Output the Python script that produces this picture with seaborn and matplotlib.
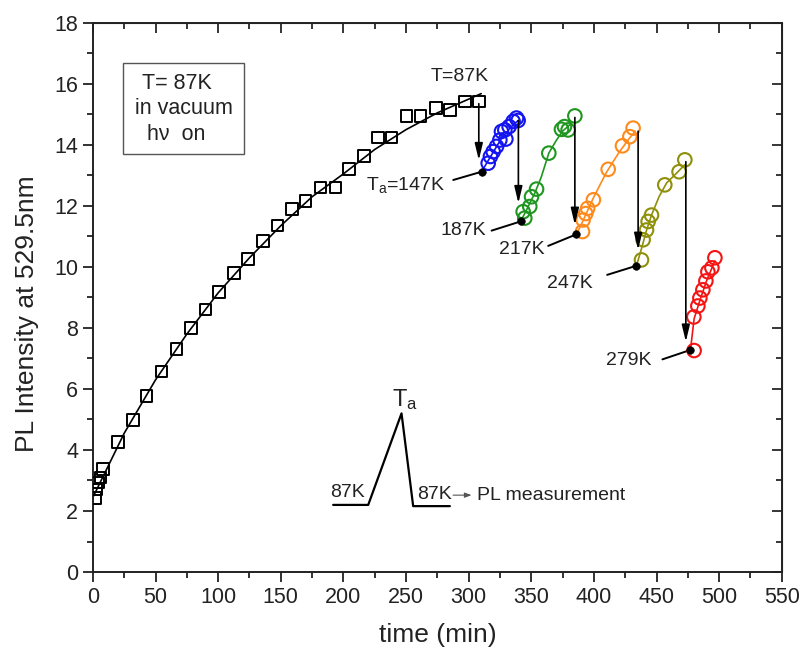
import numpy as np
import matplotlib
matplotlib.use('Agg')
import matplotlib.pyplot as plt
import matplotlib.patches as mpatches
import seaborn as sns
from matplotlib.ticker import MultipleLocator

# ============ DATA ============
# black squares: T = 87K, continuous illumination
sq_t = [1.6, 3, 4.2, 6, 8.2, 20.2, 32.2, 42.9, 54.8, 66.8, 78.2, 90, 100.6,
        112.8, 124, 136, 147.4, 159.1, 169.8, 181.8, 193.7, 204.4, 216.3,
        227.8, 238.4, 250.4, 261.6, 273.8, 285, 297, 308.1]
sq_y = [2.43, 2.7, 2.93, 3.1, 3.37, 4.27, 4.98, 5.77, 6.57, 7.31, 7.99, 8.61,
        9.17, 9.81, 10.26, 10.84, 11.36, 11.89, 12.16, 12.6, 12.6, 13.2, 13.64,
        14.24, 14.24, 14.95, 14.95, 15.2, 15.15, 15.42, 15.42]
sq_fit_t = [0, 25, 50, 75, 100, 125, 150, 175, 200, 225, 250, 275, 300, 310]
sq_fit_y = [2.45, 4.55, 6.3, 7.8, 9.15, 10.3, 11.35, 12.3, 13.05, 13.85, 14.5,
            15.05, 15.5, 15.68]

# annealed series (open circles), dot = first point after cooling back to 87K
blue_t = [315.6, 317.4, 319.6, 322.3, 324.9, 326.2, 329.7, 328.9, 332.3, 335.5, 338.2, 339.5]
blue_y = [13.4, 13.62, 13.78, 13.95, 14.16, 14.44, 14.19, 14.49, 14.6, 14.77, 14.88, 14.8]
blue_fit_t = [310.3, 318, 326, 333, 339.5]
blue_fit_y = [13.12, 13.65, 14.2, 14.55, 14.8]

green_t = [343.5, 344.8, 348.8, 350.2, 354.2, 364, 374.1, 376.5, 379.4, 384.8]
green_y = [11.81, 11.6, 11.98, 12.3, 12.55, 13.73, 14.51, 14.6, 14.49, 14.95]
green_fit_t = [341.4, 346, 352.8, 358, 364, 370, 375, 380.8]
green_fit_y = [11.49, 11.85, 12.42, 12.95, 13.73, 14.15, 14.45, 14.66]

orange_t = [390.9, 391.4, 393.5, 395, 399.6, 411.4, 422.8, 428.7, 431.3]
orange_y = [11.16, 11.54, 11.75, 11.92, 12.2, 13.2, 13.97, 14.27, 14.55]
orange_fit_t = [386.1, 390, 395, 400, 410, 420, 428, 433]
orange_fit_y = [11.07, 11.4, 11.85, 12.3, 13.1, 13.75, 14.2, 14.45]

olive_t = [438, 439.3, 442, 443.3, 446, 456.6, 468, 472.6]
olive_y = [10.23, 10.89, 11.21, 11.49, 11.7, 12.69, 13.12, 13.51]
olive_fit_t = [434, 438, 442, 446, 452, 458, 465.9, 472.6]
olive_fit_y = [10.04, 10.6, 11.2, 11.7, 12.3, 12.75, 13.07, 13.35]

red_t = [480, 479.8, 483, 484.6, 487, 489.4, 491, 494.2, 496.6]
red_y = [7.26, 8.36, 8.72, 8.98, 9.25, 9.54, 9.84, 9.97, 10.3]
red_fit_t = [477.1, 480, 485, 490, 496.6]
red_fit_y = [7.28, 8.3, 8.95, 9.55, 10.2]

# first point after annealing (black dots) and the anneal temperatures
dot_t = [310.3, 341.4, 386.1, 434, 477.1]
dot_y = [13.12, 11.49, 11.07, 10.04, 7.28]
anneal_labels = ['T$_a$=147K', '187K', '217K', '247K', '279K']
label_t = [281, 314.3, 360.8, 398.8, 446]
label_y = [12.69, 11.21, 10.56, 9.47, 6.93]
leader_t = [287.7, 318.3, 363.5, 410.6, 454.7]
leader_y = [12.85, 11.19, 10.69, 9.74, 6.97]

# drop arrows (start at the last point of the previous run)
arrow_t = [308.1, 339.7, 384.8, 435.3, 473.4]
arrow_top = [15.35, 14.8, 14.9, 14.45, 13.45]
arrow_tip = [13.5, 12.09, 11.38, 10.56, 7.55]

# inset temperature profile
prof_t = [191.8, 219.8, 246.4, 255.7, 285]
prof_y = [2.2, 2.2, 5.2, 2.16, 2.16]

# info box text
box_lines = ['T= 87K', 'in vacuum', 'h\u03bd  on']
box_line_t = [38.9, 33.6, 42.9]
box_line_y = [16.02, 15.2, 14.33]

series = [
    (blue_t, blue_y, blue_fit_t, blue_fit_y, '#1414f0'),
    (green_t, green_y, green_fit_t, green_fit_y, '#1f961f'),
    (orange_t, orange_y, orange_fit_t, orange_fit_y, '#ff8a1c'),
    (olive_t, olive_y, olive_fit_t, olive_fit_y, '#8f8f0a'),
    (red_t, red_y, red_fit_t, red_fit_y, '#f51414'),
]

# ============ PLOT ============
sns.set_style('ticks')
plt.rcParams['font.family'] = ['Liberation Sans', 'DejaVu Sans']
plt.rcParams['mathtext.fontset'] = 'custom'
plt.rcParams['mathtext.rm'] = 'Liberation Sans'
plt.rcParams['mathtext.it'] = 'Liberation Sans'

TXT = '#222222'
fig = plt.figure(figsize=(8.01, 6.53), dpi=100)
ax = fig.add_axes([0.116, 0.124, 0.86, 0.841])

sns.lineplot(x=sq_fit_t, y=sq_fit_y, ax=ax, color='black', lw=1.2,
             estimator=None, sort=False)
sns.scatterplot(x=sq_t, y=sq_y, ax=ax, marker='s', s=70, facecolor='none',
                edgecolor='black', linewidth=1.4, zorder=3)

for t, y, ft, fy, c in series:
    sns.lineplot(x=ft, y=fy, ax=ax, color=c, lw=1.2, estimator=None, sort=False)
    sns.scatterplot(x=t, y=y, ax=ax, marker='o', s=95, facecolor='none',
                    edgecolor=c, linewidth=1.5, zorder=3)

sns.scatterplot(x=dot_t, y=dot_y, ax=ax, color='black', s=30, edgecolor='black',
                zorder=5)

for x0, y0, y1 in zip(arrow_t, arrow_top, arrow_tip):
    ax.annotate('', xy=(x0, y1), xytext=(x0, y0),
                arrowprops=dict(arrowstyle='-|>,head_width=0.24,head_length=1.0',
                                color='black', lw=1.2, shrinkA=0, shrinkB=0),
                zorder=4)

for lab, lx, ly, ex, ey, dx, dy in zip(anneal_labels, label_t, label_y,
                                        leader_t, leader_y, dot_t, dot_y):
    ax.text(lx, ly, lab, ha='right', va='center', fontsize=14, color=TXT)
    ax.plot([ex, dx], [ey, dy], color='black', lw=1.4)

ax.text(292.6, 16.24, 'T=87K', ha='center', va='center', fontsize=14, color=TXT)

# info box
ax.add_patch(mpatches.Rectangle((24.2, 13.7), 96.3, 3.0, facecolor='white',
                                edgecolor='#555555', lw=1.0, zorder=2))
for s, bx, by in zip(box_lines, box_line_t, box_line_y):
    ax.text(bx, by, s, ha='left', va='center', fontsize=15.5, color=TXT, zorder=3)

# inset schematic
ax.plot(prof_t, prof_y, color='black', lw=1.6)
ax.text(203.2, 2.6, '87K', ha='center', va='center', fontsize=14, color=TXT)
ax.text(273, 2.55, '87K', ha='center', va='center', fontsize=14, color=TXT)
ax.text(249, 5.65, 'T$_a$', ha='center', va='center', fontsize=17, color=TXT)
ax.annotate('', xy=(302.3, 2.52), xytext=(287.6, 2.52),
            arrowprops=dict(arrowstyle='-|>,head_width=0.15,head_length=0.4',
                            color='#555555', lw=0.8, shrinkA=0, shrinkB=0))
ax.text(306.3, 2.52, 'PL measurement', ha='left', va='center', fontsize=14,
        color=TXT)

# axes styling
ax.set_xlim(0, 550)
ax.set_ylim(0, 18)
ax.xaxis.set_major_locator(MultipleLocator(50))
ax.xaxis.set_minor_locator(MultipleLocator(25))
ax.yaxis.set_major_locator(MultipleLocator(2))
ax.yaxis.set_minor_locator(MultipleLocator(1))
for side in ['top', 'right', 'left', 'bottom']:
    ax.spines[side].set_visible(True)
    ax.spines[side].set_linewidth(1.4)
    ax.spines[side].set_color(TXT)
ax.tick_params(which='both', direction='out', top=False, right=False,
               labelsize=15.5, colors=TXT, width=1.3)
ax.tick_params(which='major', length=7)
ax.tick_params(which='minor', length=4)

# inward ticks on top and right
ax_top = ax.secondary_xaxis('top')
ax_top.xaxis.set_major_locator(MultipleLocator(50))
ax_top.xaxis.set_minor_locator(MultipleLocator(25))
ax_top.tick_params(which='both', direction='in', labeltop=False, width=1.3)
ax_top.tick_params(which='major', length=7)
ax_top.tick_params(which='minor', length=4)
ax_right = ax.secondary_yaxis('right')
ax_right.yaxis.set_major_locator(MultipleLocator(2))
ax_right.yaxis.set_minor_locator(MultipleLocator(1))
ax_right.tick_params(which='both', direction='in', labelright=False, width=1.3)
ax_right.tick_params(which='major', length=7)
ax_right.tick_params(which='minor', length=4)

ax.set_xlabel('time (min)', fontsize=19, color=TXT, labelpad=11)
ax.set_ylabel('PL Intensity at 529.5nm', fontsize=19, color=TXT)
ax.yaxis.set_label_coords(-0.078, 0.47)

fig.savefig('out.png', dpi=100)
